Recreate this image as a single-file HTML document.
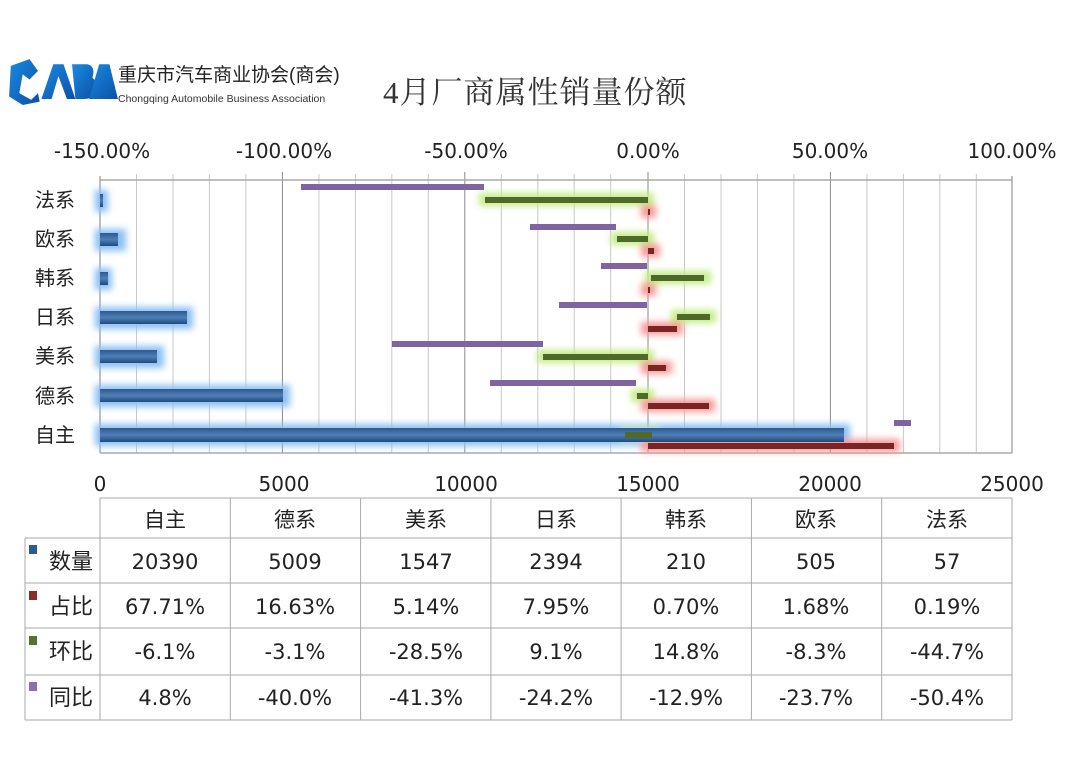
<!DOCTYPE html>
<html><head><meta charset="utf-8"><style>
html,body{margin:0;padding:0;background:#fff;}
svg text{font-family:"DejaVu Sans","Noto Sans CJK SC",sans-serif;fill:#222;}
</style></head><body>
<svg width="1069" height="760" viewBox="0 0 1069 760" xmlns="http://www.w3.org/2000/svg">
<defs>
<filter id="g" x="-50%" y="-150%" width="200%" height="400%"><feGaussianBlur stdDeviation="3.5"/></filter>
<linearGradient id="bl" x1="0" y1="0" x2="0" y2="1"><stop offset="0" stop-color="#2c5a8e"/><stop offset="0.5" stop-color="#4f7fb8"/><stop offset="1" stop-color="#1f4a7a"/></linearGradient>
<linearGradient id="lg" x1="0" y1="0" x2="1" y2="1"><stop offset="0" stop-color="#1a8be0"/><stop offset="1" stop-color="#0b4fa8"/></linearGradient>
</defs>
<!-- logo -->
<g transform="translate(4,54) scale(0.85)">
<path d="M8 14 L30 6 L40 20 L30 30 L22 24 L18 46 L32 54 L40 46 L42 56 L22 60 L6 50 Z" fill="url(#lg)"/>
<path d="M44 53 L58 12 L70 12 L84 53 L74 53 L64 26 L56 53 Z" fill="url(#lg)"/>
<path d="M80 12 L98 12 Q108 14 104 28 Q112 34 106 48 Q102 53 94 53 L84 53 Z" fill="url(#lg)"/>
<path d="M100 53 L112 12 L124 12 L134 53 Z" fill="url(#lg)"/>
</g>
<text x="118" y="81" font-size="19" style="font-family:'Liberation Sans','Noto Sans CJK SC',sans-serif;fill:#222">重庆市汽车商业协会(商会)</text>
<text x="118" y="102" font-size="10.5" style="font-family:'Liberation Sans',sans-serif;fill:#333">Chongqing Automobile Business Association</text>
<text x="383" y="103" font-size="31" style="font-family:'Liberation Serif','Noto Serif CJK SC',serif;fill:#333" letter-spacing="1">4月厂商属性销量份额</text>
<!-- top axis labels -->
<g font-size="20" text-anchor="middle">
<text x="102" y="158">-150.00%</text><text x="284" y="158">-100.00%</text><text x="466" y="158">-50.00%</text>
<text x="648" y="158">0.00%</text><text x="830" y="158">50.00%</text><text x="1012" y="158">100.00%</text>
</g>
<!-- grid -->
<g stroke="#c8c8c8" stroke-width="1">
<line x1="136.5" y1="174" x2="136.5" y2="453"/><line x1="173" y1="174" x2="173" y2="453"/><line x1="209.4" y1="174" x2="209.4" y2="453"/><line x1="245.9" y1="174" x2="245.9" y2="453"/>
<line x1="318.9" y1="174" x2="318.9" y2="453"/><line x1="355.4" y1="174" x2="355.4" y2="453"/><line x1="391.8" y1="174" x2="391.8" y2="453"/><line x1="428.3" y1="174" x2="428.3" y2="453"/>
<line x1="501.3" y1="174" x2="501.3" y2="453"/><line x1="537.8" y1="174" x2="537.8" y2="453"/><line x1="574.2" y1="174" x2="574.2" y2="453"/><line x1="610.7" y1="174" x2="610.7" y2="453"/>
<line x1="684.5" y1="174" x2="684.5" y2="453"/><line x1="721" y1="174" x2="721" y2="453"/><line x1="757.4" y1="174" x2="757.4" y2="453"/><line x1="793.9" y1="174" x2="793.9" y2="453"/>
<line x1="866.9" y1="174" x2="866.9" y2="453"/><line x1="903.4" y1="174" x2="903.4" y2="453"/><line x1="939.8" y1="174" x2="939.8" y2="453"/><line x1="976.3" y1="174" x2="976.3" y2="453"/>
</g>
<g stroke="#8a8a8a" stroke-width="1">
<line x1="282.4" y1="172" x2="282.4" y2="453"/><line x1="464.8" y1="172" x2="464.8" y2="453"/><line x1="648" y1="172" x2="648" y2="453"/><line x1="830.4" y1="172" x2="830.4" y2="453"/>
</g>
<g stroke="#aaa" stroke-width="1.5" fill="none">
<line x1="100" y1="180" x2="1012" y2="180"/><line x1="100" y1="453" x2="1012" y2="453"/>
<line x1="100" y1="176" x2="100" y2="453"/><line x1="1012" y1="176" x2="1012" y2="453"/>
</g>
<!-- glows -->
<g filter="url(#g)">
<g fill="#8cc0f4">
<rect x="95" y="190" width="13" height="22"/><rect x="95" y="229" width="31" height="22"/><rect x="95" y="268" width="17" height="22"/>
<rect x="95" y="307" width="98" height="22"/><rect x="95" y="346" width="69" height="22"/><rect x="95" y="385" width="195" height="22"/><rect x="95" y="424" width="755" height="22"/>
</g>
<g fill="#c4ec88">
<rect x="479" y="193" width="175" height="13"/><rect x="611" y="232" width="43" height="13"/><rect x="645" y="271" width="66" height="13"/>
<rect x="671" y="310" width="45" height="13"/><rect x="537" y="350" width="117" height="13"/><rect x="631" y="389" width="23" height="13"/><rect x="619" y="428" width="40" height="13"/>
</g>
<g fill="#f59a9a">
<rect x="641" y="205" width="15" height="13"/><rect x="641" y="244" width="19" height="13"/><rect x="641" y="283" width="15" height="13"/>
<rect x="641" y="322" width="42" height="13"/><rect x="641" y="361" width="31" height="13"/><rect x="641" y="399" width="74" height="13"/><rect x="641" y="439" width="259" height="13"/>
</g>
</g>
<!-- blue bars -->
<g fill="url(#bl)">
<rect x="100" y="194" width="3" height="13"/><rect x="100" y="233" width="18" height="13"/><rect x="100" y="272" width="8" height="13"/>
<rect x="100" y="311" width="87" height="13"/><rect x="100" y="350" width="57" height="13"/><rect x="100" y="389" width="183" height="13"/><rect x="100" y="428" width="744" height="14"/>
</g>
<!-- green -->
<g fill="#4f6a28">
<rect x="485" y="197" width="163" height="6"/><rect x="617" y="236" width="31" height="6"/><rect x="651" y="275" width="53" height="6"/>
<rect x="677" y="314" width="33" height="6"/><rect x="543" y="354" width="105" height="6"/><rect x="637" y="393" width="11" height="6"/><rect x="625" y="432" width="27" height="6"/>
</g>
<!-- red -->
<g fill="#7a2424">
<rect x="648" y="209" width="2" height="6"/><rect x="648" y="248" width="6" height="6"/><rect x="648" y="287" width="2" height="6"/>
<rect x="648" y="326" width="29" height="6"/><rect x="648" y="365" width="18" height="6"/><rect x="648" y="403" width="61" height="6"/><rect x="648" y="443" width="246" height="6"/>
</g>
<!-- purple -->
<g fill="#8064a2">
<rect x="301" y="184" width="183" height="6"/><rect x="530" y="224" width="86" height="6"/><rect x="601" y="263" width="46" height="6"/>
<rect x="559" y="302" width="88" height="6"/><rect x="392" y="341" width="151" height="6"/><rect x="490" y="380" width="146" height="6"/><rect x="894" y="420" width="17" height="6"/>
</g>
<!-- category labels -->
<g font-size="20">
<text x="35" y="207">法系</text><text x="35" y="246">欧系</text><text x="35" y="285">韩系</text><text x="35" y="324">日系</text>
<text x="35" y="363">美系</text><text x="35" y="403">德系</text><text x="35" y="442">自主</text>
</g>
<!-- bottom axis -->
<g font-size="20" text-anchor="middle">
<text x="100" y="491">0</text><text x="284" y="491">5000</text><text x="466" y="491">10000</text><text x="648" y="491">15000</text>
<text x="830" y="491">20000</text><text x="1012" y="491">25000</text>
</g>
<!-- table -->
<g stroke="#aaa" stroke-width="1" fill="none">
<line x1="100" y1="498" x2="1012" y2="498"/>
<line x1="25" y1="538" x2="1012" y2="538"/><line x1="25" y1="583" x2="1012" y2="583"/><line x1="25" y1="628" x2="1012" y2="628"/>
<line x1="25" y1="675" x2="1012" y2="675"/><line x1="25" y1="720" x2="1012" y2="720"/>
<line x1="25" y1="538" x2="25" y2="720"/><line x1="100" y1="498" x2="100" y2="720"/>
<line x1="230.3" y1="498" x2="230.3" y2="720"/><line x1="360.6" y1="498" x2="360.6" y2="720"/><line x1="490.9" y1="498" x2="490.9" y2="720"/>
<line x1="621.1" y1="498" x2="621.1" y2="720"/><line x1="751.4" y1="498" x2="751.4" y2="720"/><line x1="881.7" y1="498" x2="881.7" y2="720"/><line x1="1012" y1="498" x2="1012" y2="720"/>
</g>
<rect x="29" y="545" width="8" height="9" fill="#2c5a8e"/><rect x="29" y="591" width="8" height="9" fill="#8b2b2b"/>
<rect x="29" y="636" width="8" height="9" fill="#5a7030"/><rect x="29" y="682" width="8" height="9" fill="#8a70b0"/>
<g font-size="22">
<text x="49" y="569">数量</text><text x="49" y="614">占比</text><text x="49" y="659">环比</text><text x="49" y="705">同比</text>
</g>
<g font-size="21" text-anchor="middle">
<text x="165" y="527">自主</text><text x="295" y="527">德系</text><text x="426" y="527">美系</text><text x="556" y="527">日系</text><text x="686" y="527">韩系</text><text x="816" y="527">欧系</text><text x="947" y="527">法系</text>
<text x="165" y="569">20390</text><text x="295" y="569">5009</text><text x="426" y="569">1547</text><text x="556" y="569">2394</text><text x="686" y="569">210</text><text x="816" y="569">505</text><text x="947" y="569">57</text>
<text x="165" y="614">67.71%</text><text x="295" y="614">16.63%</text><text x="426" y="614">5.14%</text><text x="556" y="614">7.95%</text><text x="686" y="614">0.70%</text><text x="816" y="614">1.68%</text><text x="947" y="614">0.19%</text>
<text x="165" y="659">-6.1%</text><text x="295" y="659">-3.1%</text><text x="426" y="659">-28.5%</text><text x="556" y="659">9.1%</text><text x="686" y="659">14.8%</text><text x="816" y="659">-8.3%</text><text x="947" y="659">-44.7%</text>
<text x="165" y="705">4.8%</text><text x="295" y="705">-40.0%</text><text x="426" y="705">-41.3%</text><text x="556" y="705">-24.2%</text><text x="686" y="705">-12.9%</text><text x="816" y="705">-23.7%</text><text x="947" y="705">-50.4%</text>
</g>
</svg>
</body></html>
